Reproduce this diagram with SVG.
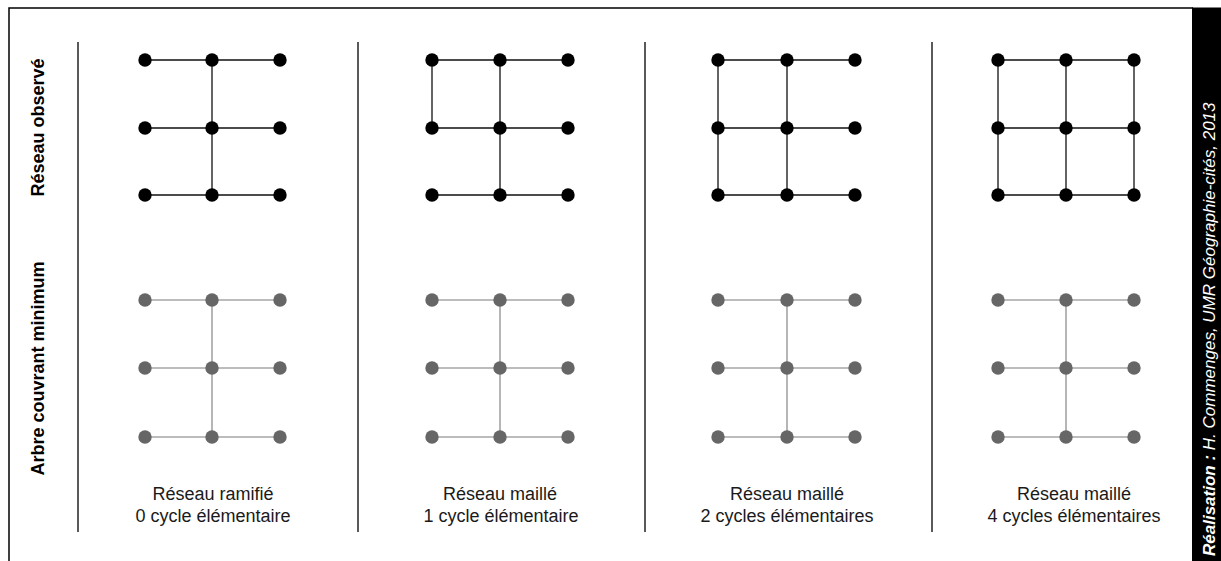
<svg xmlns="http://www.w3.org/2000/svg" width="1221" height="561" viewBox="0 0 1221 561">
<style>
.frame{stroke:#000;stroke-width:1.5;fill:none}
.sep{stroke:#000;stroke-width:1.3}
.eb{stroke:#111;stroke-width:1.3}
.eg{stroke:#7a7a7a;stroke-width:1.1}
.nb{fill:#000}
.ng{fill:#666}
.lbl{font-family:"Liberation Sans",Arial,sans-serif;font-weight:bold;font-size:18px;fill:#000;text-anchor:middle}
.cap{font-family:"Liberation Sans",Arial,sans-serif;font-size:18px;fill:#1a1a1a;text-anchor:middle}
.credit{font-family:"Liberation Sans",Arial,sans-serif;font-style:italic;font-size:17px;fill:#fff}
</style>
<defs>
<circle id="b" r="6.7" class="nb"/>
<circle id="g" r="6.7" class="ng"/>
</defs>
<rect width="1221" height="561" fill="#fff"/>
<g id="frame">
<path class="frame" d="M9,561 V8 H1193"/>
<rect x="1192" y="7.5" width="29" height="554" fill="#000"/>
<text class="credit" transform="translate(1215,556) rotate(-90)"><tspan font-weight="bold">Réalisation :</tspan> H. Commenges, UMR Géographie-cités, 2013</text>
</g>
<g id="labels">
<text class="lbl" transform="translate(44,127.5) rotate(-90)">Réseau observé</text>
<text class="lbl" transform="translate(44,368.5) rotate(-90)">Arbre couvrant minimum</text>
</g>
<g id="separators">
<line class="sep" x1="78" y1="42" x2="78" y2="532"/>
<line class="sep" x1="358" y1="42" x2="358" y2="532"/>
<line class="sep" x1="645" y1="42" x2="645" y2="532"/>
<line class="sep" x1="932" y1="42" x2="932" y2="532"/>
</g>
<g id="connectors">
<path class="eb" d="M145,60H280 M145,128H280 M145,195H280 M212,60V195"/>
<path class="eb" d="M432,60H568 M432,128H568 M432,195H568 M500,60V195 M432,60V128"/>
<path class="eb" d="M718,60H855 M718,128H855 M718,195H855 M787,60V195 M718,60V195"/>
<path class="eb" d="M998,60H1134 M998,128H1134 M998,195H1134 M1066,60V195 M998,60V195 M1134,60V195"/>
<path class="eg" d="M145,300H280 M145,368H280 M145,437H280 M212,300V437"/>
<path class="eg" d="M432,300H568 M432,368H568 M432,437H568 M500,300V437"/>
<path class="eg" d="M718,300H855 M718,368H855 M718,437H855 M787,300V437"/>
<path class="eg" d="M998,300H1134 M998,368H1134 M998,437H1134 M1066,300V437"/>
</g>
<g id="panel1-top">
<use href="#b" x="145" y="60"/><use href="#b" x="212" y="60"/><use href="#b" x="280" y="60"/>
<use href="#b" x="145" y="128"/><use href="#b" x="212" y="128"/><use href="#b" x="280" y="128"/>
<use href="#b" x="145" y="195"/><use href="#b" x="212" y="195"/><use href="#b" x="280" y="195"/>
</g>
<g id="panel2-top">
<use href="#b" x="432" y="60"/><use href="#b" x="500" y="60"/><use href="#b" x="568" y="60"/>
<use href="#b" x="432" y="128"/><use href="#b" x="500" y="128"/><use href="#b" x="568" y="128"/>
<use href="#b" x="432" y="195"/><use href="#b" x="500" y="195"/><use href="#b" x="568" y="195"/>
</g>
<g id="panel3-top">
<use href="#b" x="718" y="60"/><use href="#b" x="787" y="60"/><use href="#b" x="855" y="60"/>
<use href="#b" x="718" y="128"/><use href="#b" x="787" y="128"/><use href="#b" x="855" y="128"/>
<use href="#b" x="718" y="195"/><use href="#b" x="787" y="195"/><use href="#b" x="855" y="195"/>
</g>
<g id="panel4-top">
<use href="#b" x="998" y="60"/><use href="#b" x="1066" y="60"/><use href="#b" x="1134" y="60"/>
<use href="#b" x="998" y="128"/><use href="#b" x="1066" y="128"/><use href="#b" x="1134" y="128"/>
<use href="#b" x="998" y="195"/><use href="#b" x="1066" y="195"/><use href="#b" x="1134" y="195"/>
</g>
<g id="panel1-bottom">
<use href="#g" x="145" y="300"/><use href="#g" x="212" y="300"/><use href="#g" x="280" y="300"/>
<use href="#g" x="145" y="368"/><use href="#g" x="212" y="368"/><use href="#g" x="280" y="368"/>
<use href="#g" x="145" y="437"/><use href="#g" x="212" y="437"/><use href="#g" x="280" y="437"/>
</g>
<g id="panel2-bottom">
<use href="#g" x="432" y="300"/><use href="#g" x="500" y="300"/><use href="#g" x="568" y="300"/>
<use href="#g" x="432" y="368"/><use href="#g" x="500" y="368"/><use href="#g" x="568" y="368"/>
<use href="#g" x="432" y="437"/><use href="#g" x="500" y="437"/><use href="#g" x="568" y="437"/>
</g>
<g id="panel3-bottom">
<use href="#g" x="718" y="300"/><use href="#g" x="787" y="300"/><use href="#g" x="855" y="300"/>
<use href="#g" x="718" y="368"/><use href="#g" x="787" y="368"/><use href="#g" x="855" y="368"/>
<use href="#g" x="718" y="437"/><use href="#g" x="787" y="437"/><use href="#g" x="855" y="437"/>
</g>
<g id="panel4-bottom">
<use href="#g" x="998" y="300"/><use href="#g" x="1066" y="300"/><use href="#g" x="1134" y="300"/>
<use href="#g" x="998" y="368"/><use href="#g" x="1066" y="368"/><use href="#g" x="1134" y="368"/>
<use href="#g" x="998" y="437"/><use href="#g" x="1066" y="437"/><use href="#g" x="1134" y="437"/>
</g>
<g id="captions">
<text class="cap" x="213" y="500">Réseau ramifié</text>
<text class="cap" x="213" y="522">0 cycle élémentaire</text>
<text class="cap" x="500" y="500">Réseau maillé</text>
<text class="cap" x="501" y="522">1 cycle élémentaire</text>
<text class="cap" x="787" y="500">Réseau maillé</text>
<text class="cap" x="787" y="522">2 cycles élémentaires</text>
<text class="cap" x="1074" y="500">Réseau maillé</text>
<text class="cap" x="1074" y="522">4 cycles élémentaires</text>
</g>
</svg>
